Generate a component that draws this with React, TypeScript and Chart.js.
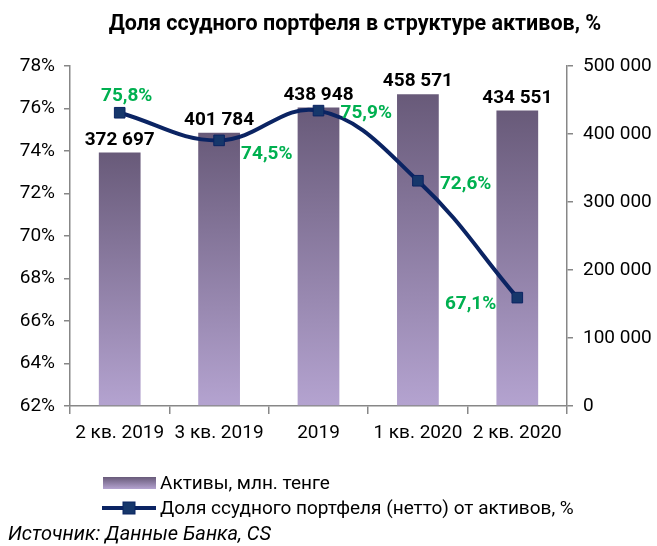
import React, { useEffect, useRef } from "react";
import { Chart, registerables } from "chart.js";

Chart.register(...registerables);

const categories = ["2 кв. 2019", "3 кв. 2019", "2019", "1 кв. 2020", "2 кв. 2020"];
const assets = [372697, 401784, 438948, 458571, 434551];
const loanShare = [75.8, 74.5, 75.9, 72.6, 67.1];
const shareLabelPos = ["above", "rightBelow", "right", "right", "left"];
const titleText = "Доля ссудного портфеля в структуре активов, %";
const legendAssets = "Активы, млн. тенге";
const legendShare = "Доля ссудного портфеля (нетто) от активов, %";
const sourceText = "Источник: Данные Банка, CS";

const FONT = "Roboto, 'Noto Sans', sans-serif";
const NAVY = "#0b2463";
const MARKER = "#16376b";
const GREEN = "#00b050";
const AXIS = "#878787";

const fmt = (v: number) => String(Math.round(v)).replace(/\B(?=(\d{3})+(?!\d))/g, " ");
const fmtPct = (v: number) => v.toFixed(1).replace(".", ",") + "%";

function barGradient(c: CanvasRenderingContext2D, top: number, bottom: number) {
  const g = c.createLinearGradient(0, top, 0, bottom);
  g.addColorStop(0, "#685a79");
  g.addColorStop(1, "#b4a3d0");
  return g;
}

const decor = {
  id: "decor",
  afterDraw(chart: any) {
    const c: CanvasRenderingContext2D = chart.ctx;
    c.save();
    // title
    c.fillStyle = "#000";
    c.font = `bold 21.5px ${FONT}`;
    c.textAlign = "center";
    c.textBaseline = "middle";
    c.fillText(titleText, 355, 25);

    // bar labels
    const barMeta = chart.getDatasetMeta(0);
    c.font = `bold 19px ${FONT}`;
    c.textBaseline = "alphabetic";
    barMeta.data.forEach((el: any, i: number) => {
      c.fillText(fmt(assets[i]), el.x, el.y - 8);
    });

    // line labels
    const lineMeta = chart.getDatasetMeta(1);
    c.fillStyle = GREEN;
    c.font = `bold 19px ${FONT}`;
    lineMeta.data.forEach((el: any, i: number) => {
      const t = fmtPct(loanShare[i]);
      const pos = shareLabelPos[i];
      c.textBaseline = "middle";
      if (pos === "above") {
        c.textAlign = "center";
        c.fillText(t, el.x + 7, el.y - 17);
      } else if (pos === "rightBelow") {
        c.textAlign = "left";
        c.fillText(t, el.x + 22, el.y + 14);
      } else if (pos === "right") {
        c.textAlign = "left";
        c.fillText(t, el.x + 22, el.y + 3);
      } else {
        c.textAlign = "right";
        c.fillText(t, el.x - 21, el.y + 7);
      }
    });

    // legend
    c.fillStyle = barGradient(c, 477, 489);
    c.fillRect(103, 477, 53, 12);
    c.strokeStyle = NAVY;
    c.lineWidth = 4;
    c.beginPath();
    c.moveTo(102, 508);
    c.lineTo(156, 508);
    c.stroke();
    c.fillStyle = MARKER;
    c.fillRect(123, 502, 12, 12);
    c.lineWidth = 1;
    c.strokeRect(123, 502, 12, 12);
    c.fillStyle = "#000";
    c.font = `19px ${FONT}`;
    c.textAlign = "left";
    c.textBaseline = "middle";
    c.fillText(legendAssets, 160, 484);
    c.fillText(legendShare, 160, 509);

    // source
    c.font = `italic 20px ${FONT}`;
    c.fillText(sourceText, 8, 535);
    c.restore();
  },
};

export default function App() {
  const ref = useRef<HTMLCanvasElement | null>(null);
  useEffect(() => {
    if (!ref.current) return;
    const tickFont = { family: FONT, size: 19 };
    const chart = new Chart(ref.current, {
      data: {
        labels: categories,
        datasets: [
          {
            type: "bar",
            label: legendAssets,
            data: assets,
            yAxisID: "y2",
            order: 1,
            categoryPercentage: 1,
            barPercentage: 0.42,
            backgroundColor: (ctx: any) => {
              const ch = ctx.chart;
              if (!ch.chartArea || ctx.raw == null) return "#8c7ca3";
              const s = ch.scales.y2;
              return barGradient(ch.ctx, s.getPixelForValue(ctx.raw), s.getPixelForValue(0));
            },
          },
          {
            type: "line",
            label: legendShare,
            data: loanShare,
            yAxisID: "y",
            order: 0,
            borderColor: NAVY,
            borderWidth: 4,
            tension: 0.4,
            pointStyle: "rect",
            pointRadius: 7.5,
            pointBackgroundColor: MARKER,
            pointBorderColor: NAVY,
            pointBorderWidth: 1,
          },
        ],
      } as any,
      options: {
        animation: false,
        responsive: false,
        layout: { padding: { left: 0, right: 0, top: 66, bottom: 0 } },
        plugins: { legend: { display: false }, tooltip: { enabled: false }, title: { display: false } },
        scales: {
          x: {
            offset: true,
            grid: { offset: true, drawOnChartArea: false, tickLength: 8, color: AXIS, lineWidth: 1.5 },
            border: { color: AXIS, width: 1.5 },
            ticks: { font: tickFont, color: "#000", padding: 8, maxRotation: 0, autoSkip: false },
            afterFit: (s: any) => { s.height = 140; },
          },
          y: {
            position: "left",
            min: 62,
            max: 78,
            grid: { drawOnChartArea: false, tickLength: 6, color: AXIS, lineWidth: 1.5 },
            border: { color: AXIS, width: 1.5 },
            ticks: { stepSize: 2, font: tickFont, color: "#000", padding: 9, callback: (v: any) => v + "%" },
            afterFit: (s: any) => { s.width = 70; },
          },
          y2: {
            position: "right",
            min: 0,
            max: 500000,
            grid: { drawOnChartArea: false, tickLength: 6, color: AXIS, lineWidth: 1.5 },
            border: { color: AXIS, width: 1.5 },
            ticks: { stepSize: 100000, font: tickFont, color: "#000", padding: 10, callback: (v: any) => fmt(v) },
            afterFit: (s: any) => { s.width = 90; },
          },
        },
      } as any,
      plugins: [decor],
    });
    return () => chart.destroy();
  }, []);
  return (
    <div style={{ position: "fixed", left: 0, top: 0, width: 657, height: 546, background: "#fff" }}>
      <canvas ref={ref} width={657} height={546} style={{ display: "block" }} />
    </div>
  );
}
